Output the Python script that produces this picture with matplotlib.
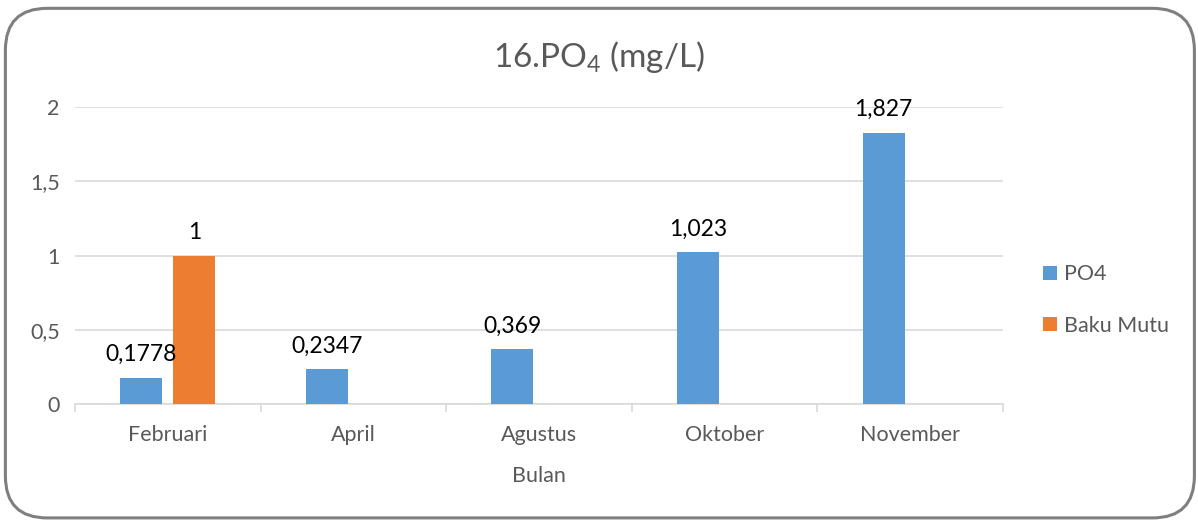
import numpy as np
import matplotlib.pyplot as plt
from matplotlib.patches import FancyBboxPatch
from matplotlib.ticker import FuncFormatter, FixedLocator

####figure settings####
plt.rcParams["font.family"] = ["Lato", "DejaVu Sans"]
plt.rcParams["mathtext.fontset"] = "custom"
plt.rcParams["mathtext.rm"] = "Lato"
plt.rcParams["mathtext.it"] = "Lato:italic"
plt.rcParams["mathtext.bf"] = "Lato:bold"

months = ["Februari", "April", "Agustus", "Oktober", "November"]
po4 = [0.1778, 0.2347, 0.369, 1.023, 1.827]
baku_mutu = [1, np.nan, np.nan, np.nan, np.nan]
po4_labels = ["0,1778", "0,2347", "0,369", "1,023", "1,827"]
baku_labels = ["1", "", "", "", ""]

blue = "#5B9BD5"
orange = "#ED7D31"
grey_txt = "#595959"
grid_col = "#D9D9D9"

fig = plt.figure(figsize=(11.98, 5.2), dpi=100)
ax = fig.add_axes([0.0626, 0.2231, 0.7746, 0.5711])

# rounded chart border
border = FancyBboxPatch((0.0045, 0.004), 0.9925, 0.98,
                        boxstyle="round,pad=0,rounding_size=0.035",
                        transform=fig.transFigure, mutation_aspect=1198/520,
                        facecolor="none", edgecolor="#7F7F7F", linewidth=2.2,
                        clip_on=False)
fig.patches.append(border)

x = np.arange(len(months))
w = 0.226
off = 0.143
b1 = ax.bar(x - off, po4, w, color=blue, label="PO4", zorder=3)
b2 = ax.bar(x + off, baku_mutu, w, color=orange, label="Baku Mutu", zorder=3)

for rect, lab in zip(b1, po4_labels):
    ax.annotate(lab, (rect.get_x() + rect.get_width() / 2, rect.get_height()),
                xytext=(0, 9), textcoords="offset points", ha="center", va="bottom",
                fontsize=16.5, color="black")
for rect, lab in zip(b2, baku_labels):
    if lab:
        ax.annotate(lab, (rect.get_x() + rect.get_width() / 2, rect.get_height()),
                    xytext=(0, 9), textcoords="offset points", ha="center", va="bottom",
                    fontsize=16.5, color="black")

ax.set_xlim(-0.5, len(months) - 0.5)
ax.set_ylim(0, 2)
ax.set_yticks([0, 0.5, 1, 1.5, 2])
ax.yaxis.set_major_formatter(FuncFormatter(lambda v, p: ("%g" % v).replace(".", ",")))
ax.yaxis.grid(True, color=grid_col, linewidth=1.2, zorder=0)
ax.tick_params(axis="y", length=0, labelsize=15.5, labelcolor=grey_txt, pad=11)

ax.set_xticks(x)
ax.set_xticklabels(months)
ax.xaxis.set_minor_locator(FixedLocator(np.arange(-0.5, len(months), 1)))
ax.tick_params(axis="x", which="major", length=0, labelsize=15.5, labelcolor=grey_txt, pad=15)
ax.tick_params(axis="x", which="minor", length=6, color=grid_col, width=1.2)

for s in ["top", "right", "left"]:
    ax.spines[s].set_visible(False)
ax.spines["bottom"].set_color(grid_col)
ax.spines["bottom"].set_linewidth(1.2)

ax.set_xlabel("Bulan", fontsize=15.5, color=grey_txt, labelpad=15)
fig.text(0.5, 0.89, "16.PO$_4$ (mg/L)", ha="center", va="center", fontsize=24, color=grey_txt)

leg = ax.legend(loc="center left", bbox_to_anchor=(1.022, 0.35), frameon=False,
                fontsize=15.5, handlelength=0.65, handleheight=0.65, handletextpad=0.35,
                labelspacing=1.45)
for t in leg.get_texts():
    t.set_color(grey_txt)

plt.savefig("out.png", dpi=100)
